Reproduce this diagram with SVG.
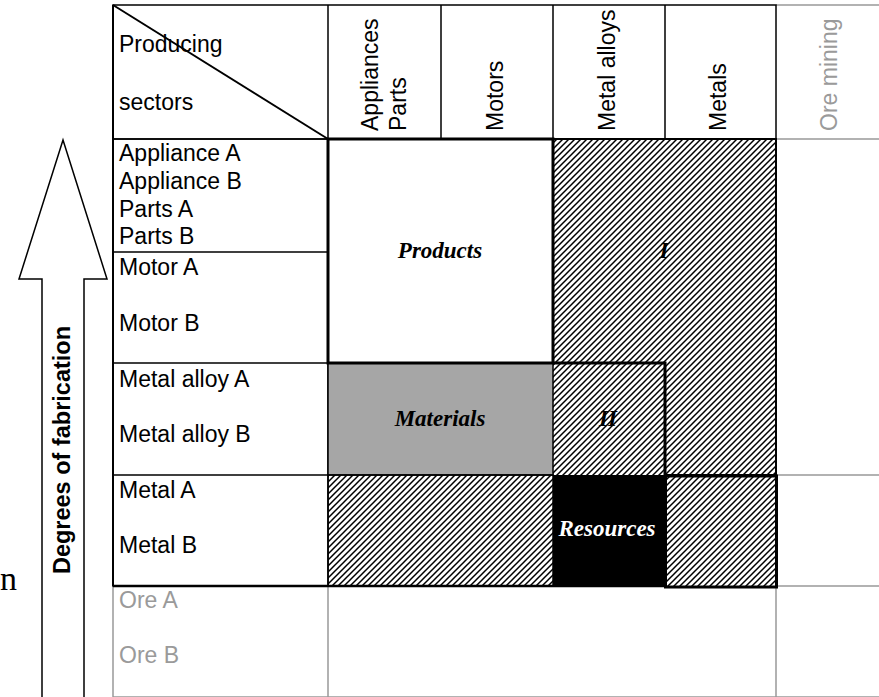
<svg xmlns="http://www.w3.org/2000/svg" width="879" height="697" viewBox="0 0 879 697">
  <style>
    .lbl { font-family: "Liberation Sans", Arial, sans-serif; font-size: 23px; fill: #000; }
    .ore { fill: #9a9a9a; }
    .blk { font-family: "Liberation Serif", "Times New Roman", serif; font-size: 23px; font-weight: bold; font-style: italic; text-anchor: middle; }
    .thin { fill: none; stroke: #000; stroke-width: 1.5; }
    .thick { fill: none; stroke: #000; stroke-width: 3; }
    .grey { fill: none; stroke: #999; stroke-width: 1.5; }
  </style>
  <defs>
    <pattern id="hatch" patternUnits="userSpaceOnUse" width="6" height="6">
      <path d="M-1,1 L1,-1 M0,6 L6,0 M5,7 L7,5" stroke="#000" stroke-width="1.5"/>
    </pattern>
  </defs>

  <rect width="879" height="697" fill="#fff"/>

  <!-- serif letter at the left margin -->
  <text x="0" y="590" font-family="Liberation Serif, Times New Roman, serif" font-size="34">n</text>

  <!-- upward arrow: degrees of fabrication -->
  <g id="arrow">
    <path d="M42,699 V279 H19 L63,140 L107,279 H84 V699" fill="#fff" stroke="#000" stroke-width="1.5" stroke-linejoin="miter"/>
    <text transform="translate(70,450) rotate(-90)" font-family="Liberation Sans, Arial, sans-serif" font-size="23.5" font-weight="bold" text-anchor="middle">Degrees of fabrication</text>
  </g>

  <!-- ore rows and ore mining column (grey) -->
  <g id="ore">
    <path class="grey" d="M776,5 H879 M776,139 H879 M776,475 H879 M776,586 H879 M113,697 H879 M113,586 V697 M328,586 V697 M776,586 V697"/>
    <text class="lbl ore" x="119" y="608">Ore A</text>
    <text class="lbl ore" x="119" y="663">Ore B</text>
    <text class="lbl ore" transform="translate(837,131) rotate(-90)">Ore mining</text>
  </g>

  <!-- header row -->
  <g id="header">
    <rect class="thin" x="113" y="5" width="663" height="134" stroke-width="2"/>
    <path class="thin" d="M441,5 V139 M553,5 V139 M665,5 V139 M328,5 V139"/>
    <line x1="113" y1="5" x2="328" y2="139" stroke="#000" stroke-width="2"/>
    <text class="lbl" x="119" y="52">Producing</text>
    <text class="lbl" x="119" y="110">sectors</text>
    <text class="lbl" transform="translate(378,131) rotate(-90)">Appliances</text>
    <text class="lbl" transform="translate(406,131) rotate(-90)">Parts</text>
    <text class="lbl" transform="translate(503,131) rotate(-90)">Motors</text>
    <text class="lbl" transform="translate(615,131) rotate(-90)">Metal alloys</text>
    <text class="lbl" transform="translate(726,131) rotate(-90)">Metals</text>
  </g>

  <!-- row labels -->
  <g id="rows">
    <rect class="thin" x="113" y="139" width="215" height="447"/>
    <path class="thin" d="M113,252 H328 M113,363 H328 M113,475 H328"/>
    <text class="lbl" x="119" y="161">Appliance A</text>
    <text class="lbl" x="119" y="189">Appliance B</text>
    <text class="lbl" x="119" y="217">Parts A</text>
    <text class="lbl" x="119" y="244">Parts B</text>
    <text class="lbl" x="119" y="275">Motor A</text>
    <text class="lbl" x="119" y="331">Motor B</text>
    <text class="lbl" x="119" y="387">Metal alloy A</text>
    <text class="lbl" x="119" y="442">Metal alloy B</text>
    <text class="lbl" x="119" y="498">Metal A</text>
    <text class="lbl" x="119" y="553">Metal B</text>
  </g>

  <!-- matrix blocks -->
  <g id="region-I">
    <path d="M553,139 H776 V475 H665 V363 H553 Z" fill="url(#hatch)" stroke="#000" stroke-width="2"/>
    <text class="blk" x="664" y="258">I</text>
  </g>
  <g id="region-II">
    <rect x="553" y="363" width="112" height="112" fill="url(#hatch)"/>
    <path class="thick" d="M553,363 H665 V475"/>
    <text class="blk" x="608" y="426">II</text>
  </g>
  <g id="materials">
    <rect x="328" y="363" width="225" height="112" fill="#a6a6a6" stroke="#000" stroke-width="1.5"/>
    <text class="blk" x="440" y="426">Materials</text>
  </g>
  <g id="products">
    <rect x="328" y="139" width="225" height="224" fill="#fff" stroke="#000" stroke-width="3"/>
    <text class="blk" x="440" y="258">Products</text>
  </g>
  <g id="metal-hatch-left">
    <rect x="328" y="475" width="225" height="111" fill="url(#hatch)" stroke="#000" stroke-width="1.5"/>
  </g>
  <g id="resources">
    <rect x="553" y="475" width="112" height="111" fill="#000"/>
    <text class="blk" x="607" y="536" fill="#fff">Resources</text>
  </g>
  <g id="metal-hatch-right">
    <rect x="665.5" y="476" width="111" height="111" fill="url(#hatch)" stroke="#000" stroke-width="3"/>
  </g>

  <!-- frame lines over the blocks -->
  <g id="connectors">
    <path d="M113,586 H665" stroke="#000" stroke-width="2.5" fill="none"/>
    <path d="M113,5 V586" stroke="#000" stroke-width="2" fill="none"/>
  </g>
</svg>
